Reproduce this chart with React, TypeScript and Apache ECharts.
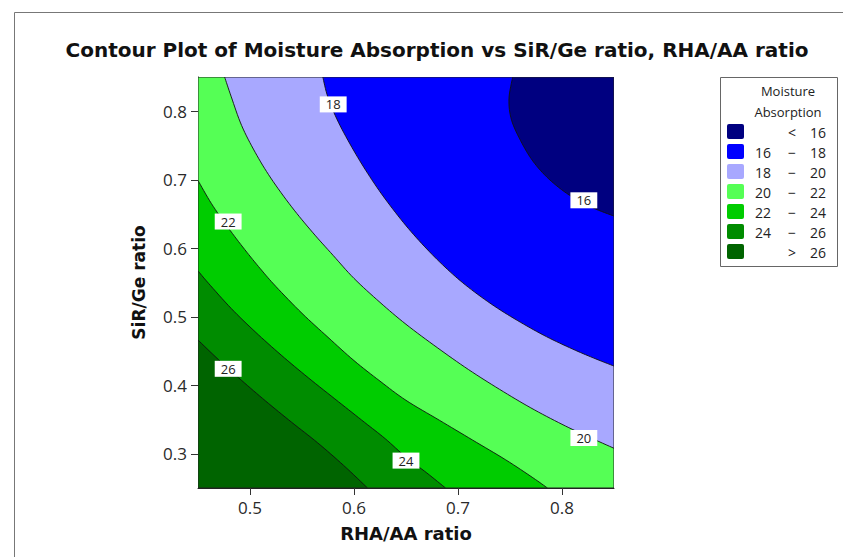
import React, { useEffect, useRef } from "react";
import * as echarts from "echarts";

const xRange = [0.45, 0.85];
const yRange = [0.25, 0.85];
const xTicks = [0.5, 0.6, 0.7, 0.8];
const yTicks = [0.3, 0.4, 0.5, 0.6, 0.7, 0.8];

const levels = [16, 18, 20, 22, 24, 26];
const bandColors = ["#000080", "#0000FF", "#A8A8FF", "#55FF55", "#00CC00", "#008C00", "#006400"];

// contour lines: [RHA/AA ratio, SiR/Ge ratio]
const contour16 = [[0.7526, 0.85], [0.749, 0.818], [0.7515, 0.787], [0.7616, 0.753], [0.7736, 0.724], [0.7896, 0.698], [0.8096, 0.675], [0.8296, 0.659], [0.85, 0.647]];
const contour18 = [[0.57, 0.85], [0.575, 0.82], [0.585, 0.784], [0.6, 0.742], [0.615, 0.705], [0.63, 0.672], [0.65, 0.633], [0.67, 0.599], [0.69, 0.569], [0.71, 0.543], [0.735, 0.5155], [0.76, 0.492], [0.785, 0.471], [0.81, 0.453], [0.83, 0.44], [0.85, 0.428]];
const contour20 = [[0.4756, 0.85], [0.482, 0.821], [0.492, 0.779], [0.505, 0.74], [0.52, 0.7025], [0.54, 0.6605], [0.56, 0.6235], [0.58, 0.5895], [0.6, 0.556], [0.625, 0.521], [0.65, 0.489], [0.68, 0.455], [0.71, 0.423], [0.74, 0.394], [0.77, 0.367], [0.8, 0.343], [0.825, 0.325], [0.85, 0.308]];
const contour22 = [[0.45, 0.699], [0.463, 0.665], [0.479, 0.63], [0.495, 0.598], [0.51, 0.57], [0.525, 0.544], [0.55, 0.505], [0.575, 0.47], [0.6, 0.436], [0.625, 0.406], [0.65, 0.378], [0.682, 0.349], [0.714, 0.32], [0.746, 0.291], [0.772, 0.265], [0.786, 0.25]];
const contour24 = [[0.45, 0.567], [0.46, 0.549], [0.482, 0.512], [0.505, 0.478], [0.53, 0.444], [0.556, 0.411], [0.585, 0.376], [0.61, 0.346], [0.63, 0.322], [0.65, 0.295], [0.67, 0.272], [0.688, 0.25]];
const contour26 = [[0.45, 0.466], [0.47, 0.437], [0.492, 0.407], [0.515, 0.377], [0.54, 0.346], [0.565, 0.316], [0.59, 0.283], [0.613, 0.25]];
const contours = [contour16, contour18, contour20, contour22, contour24, contour26];

// contour labels
const labelText = ["18", "16", "22", "26", "24", "20"];
const labelX = [0.58, 0.821, 0.479, 0.479, 0.65, 0.821];
const labelY = [0.81, 0.67, 0.639, 0.424, 0.29, 0.323];

const titleText = "Contour Plot of Moisture Absorption vs SiR/Ge ratio, RHA/AA ratio";
const xName = "RHA/AA ratio";
const yName = "SiR/Ge ratio";
const legendTitle = ["Moisture", "Absorption"];

function catmull(pts: number[][], seg = 8) {
  const out: number[][] = [];
  for (let i = 0; i < pts.length - 1; i++) {
    const p0 = pts[Math.max(i - 1, 0)], p1 = pts[i], p2 = pts[i + 1], p3 = pts[Math.min(i + 2, pts.length - 1)];
    for (let s = 0; s < seg; s++) {
      const t = s / seg, t2 = t * t, t3 = t2 * t;
      const f = (k: number) =>
        0.5 * (2 * p1[k] + (-p0[k] + p2[k]) * t + (2 * p0[k] - 5 * p1[k] + 4 * p2[k] - p3[k]) * t2 + (-p0[k] + 3 * p1[k] - 3 * p2[k] + p3[k]) * t3);
      out.push([f(0), f(1)]);
    }
  }
  out.push(pts[pts.length - 1]);
  return out;
}

export default function App() {
  const ref = useRef<HTMLDivElement>(null);
  useEffect(() => {
    const chart = echarts.init(ref.current!, undefined, { renderer: "svg" });
    const tickFont = "Open Sans";

    const renderItem = (params: any, api: any) => {
      if (params.dataIndex !== 0) return null;
      const [x0, x1] = xRange;
      const [y0, y1] = yRange;
      const children: any[] = [];
      const cornerPx = [[x0, y0], [x1, y0], [x1, y1], [x0, y1]].map((p) => api.coord(p));
      children.push({ type: "polygon", shape: { points: cornerPx }, style: { fill: bandColors[0] } });
      const lines: any[] = [];
      contours.forEach((c, i) => {
        const px = catmull(c.map((p) => api.coord(p)));
        const first = c[0];
        const last = c[c.length - 1];
        const extra: number[][] = [];
        if (last[0] >= x1) extra.push([x1, y0]);
        extra.push([x0, y0]);
        if (first[1] >= y1) extra.push([x0, y1]);
        const poly = px.concat(extra.map((p) => api.coord(p)));
        children.push({ type: "polygon", shape: { points: poly }, style: { fill: bandColors[i + 1] } });
        lines.push({ type: "polyline", shape: { points: px }, style: { stroke: "#111", lineWidth: 0.9, fill: null } });
      });
      children.push(...lines);
      const tl = api.coord([x0, y1]);
      const br = api.coord([x1, y0]);
      children.push({
        type: "rect",
        shape: { x: tl[0], y: tl[1], width: br[0] - tl[0], height: br[1] - tl[1] },
        style: { fill: null, stroke: "#222", lineWidth: 1 },
      });
      return { type: "group", children };
    };

    const legendChildren: any[] = [];
    legendChildren.push({ type: "rect", shape: { x: 720.5, y: 77.5, width: 117, height: 189 }, style: { fill: "#fff", stroke: "#666", lineWidth: 1 } });
    legendTitle.forEach((t, i) => {
      legendChildren.push({
        type: "text",
        style: { text: t, x: 788, y: 91 + i * 21, align: "center", verticalAlign: "middle", font: "13px 'Open Sans'", fill: "#222" },
      });
    });
    bandColors.forEach((col, i) => {
      const y = 124 + i * 20;
      legendChildren.push({ type: "rect", shape: { x: 727, y, width: 17, height: 15, r: 2 }, style: { fill: col } });
      let lo = "", sym = "\u2212", hi = "";
      if (i === 0) { sym = "<"; hi = String(levels[0]); }
      else if (i === bandColors.length - 1) { sym = ">"; hi = String(levels[levels.length - 1]); }
      else { lo = String(levels[i - 1]); hi = String(levels[i]); }
      const font = "14px 'Open Sans'";
      if (lo) legendChildren.push({ type: "text", style: { text: lo, x: 763, y: y + 8, align: "center", verticalAlign: "middle", font, fill: "#222" } });
      legendChildren.push({ type: "text", style: { text: sym, x: 792, y: y + 8, align: "center", verticalAlign: "middle", font, fill: "#222" } });
      legendChildren.push({ type: "text", style: { text: hi, x: 818, y: y + 8, align: "center", verticalAlign: "middle", font, fill: "#222" } });
    });

    chart.setOption({
      animation: false,
      backgroundColor: "#fff",
      grid: { left: 198, top: 77, width: 416, height: 411, containLabel: false },
      xAxis: {
        type: "value",
        min: xRange[0],
        max: xRange[1],
        axisLine: { show: true, lineStyle: { color: "#222" } },
        axisTick: { show: true, customValues: xTicks, length: 7, lineStyle: { color: "#333" } },
        axisLabel: { customValues: xTicks, formatter: (v: number) => v.toFixed(1), fontSize: 17, color: "#2a2a2a", margin: 11, fontFamily: tickFont },
        splitLine: { show: false },
        name: xName,
        nameLocation: "middle",
        nameGap: 36,
        nameTextStyle: { fontWeight: "bold", fontSize: 18, color: "#111", fontFamily: "DejaVu Sans" },
      },
      yAxis: {
        type: "value",
        min: yRange[0],
        max: yRange[1],
        axisLine: { show: true, lineStyle: { color: "#222" } },
        axisTick: { show: true, customValues: yTicks, length: 7, lineStyle: { color: "#333" } },
        axisLabel: { customValues: yTicks, formatter: (v: number) => v.toFixed(1), fontSize: 17, color: "#2a2a2a", margin: 11, fontFamily: tickFont },
        splitLine: { show: false },
        name: yName,
        nameLocation: "middle",
        nameRotate: 90,
        nameGap: 51,
        nameTextStyle: { fontWeight: "bold", fontSize: 17, color: "#111", fontFamily: "DejaVu Sans" },
      },
      series: [
        {
          type: "custom",
          coordinateSystem: "cartesian2d",
          renderItem,
          data: [[xRange[0], yRange[0]]],
          encode: { x: 0, y: 1 },
          silent: true,
          clip: true,
        },
        {
          type: "scatter",
          symbol: "rect",
          symbolSize: 1,
          itemStyle: { color: "rgba(0,0,0,0)", opacity: 1 },
          data: labelText.map((t, i) => [labelX[i], labelY[i], t]),
          label: {
            show: true,
            position: "inside",
            formatter: (p: any) => p.value[2],
            backgroundColor: "#fff",
            padding: [2, 6, 1, 6],
            color: "#222",
            fontSize: 13,
            fontFamily: tickFont,
          },
          emphasis: { disabled: true },
          silent: true,
          z: 5,
        },
      ],
      graphic: [
        { type: "polyline", shape: { points: [[14.5, 557], [14.5, 12.5], [843, 12.5]] }, style: { stroke: "#777", lineWidth: 1, fill: null } },
        {
          type: "text",
          style: { text: titleText, x: 437, y: 50, align: "center", verticalAlign: "middle", font: "bold 20px 'DejaVu Sans'", fill: "#111" },
        },
        { type: "group", children: legendChildren },
      ],
    });
    return () => chart.dispose();
  }, []);
  return <div ref={ref} style={{ position: "absolute", left: 0, top: 0, width: 843, height: 557 }} />;
}
